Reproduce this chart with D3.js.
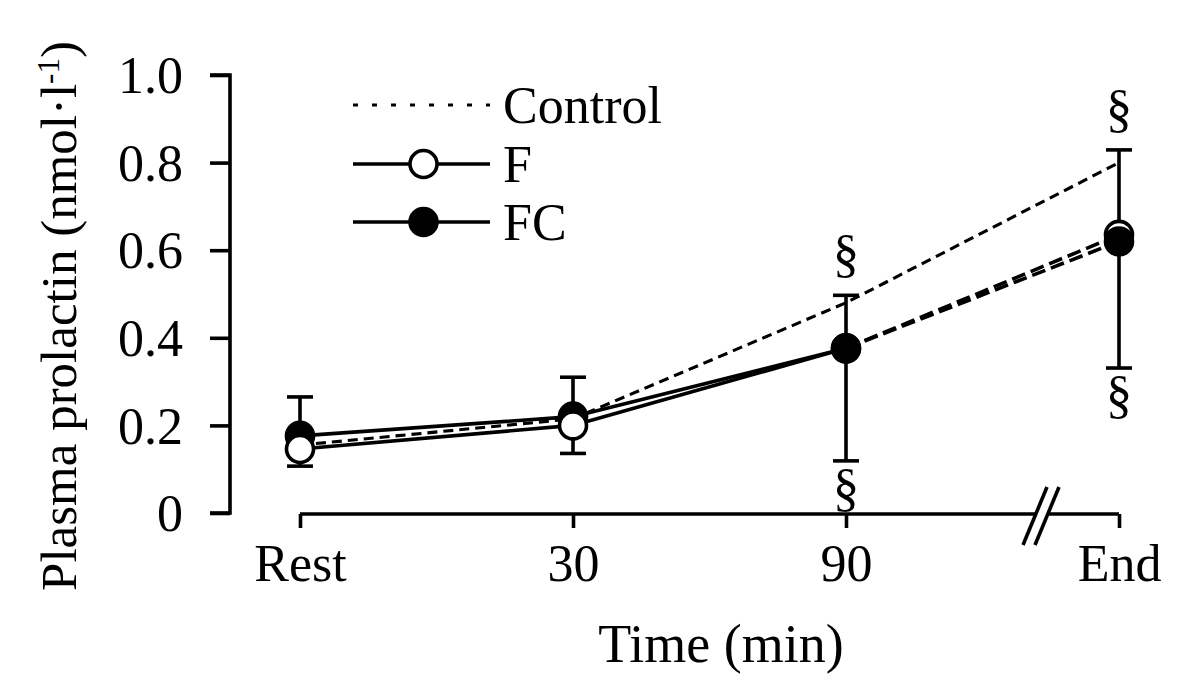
<!DOCTYPE html>
<html><head><meta charset="utf-8">
<script src="https://cdn.jsdelivr.net/npm/d3@7"></script>
<style>
html,body{margin:0;padding:0;background:#fff;}
text{font-family:"Liberation Serif","Times New Roman",serif;fill:#000;}
</style></head>
<body>
<svg id="chart" width="1200" height="700"></svg>
<script>
// ---- data ----
const categories = ["Rest", "30", "90", "End"];
const controlValues = [0.155, 0.215, 0.48, 0.80];
const fValues = [0.146, 0.200, 0.376, 0.635];
const fcValues = [0.176, 0.220, 0.376, 0.620];
const errHigh = [0.265, 0.310, 0.497, 0.829];
const errLow = [0.107, 0.136, 0.119, 0.331];
const yTicks = [0, 0.2, 0.4, 0.6, 0.8, 1.0];
const yTickLabels = ["0", "0.2", "0.4", "0.6", "0.8", "1.0"];
const sigIndex = [2, 2, 3, 3];
const sigSide = ["above", "below", "above", "below"];
const legendLabels = ["Control", "F", "FC"];

// ---- layout ----
const svg = d3.select("#chart");
const x = d3.scalePoint().domain(categories).range([300, 1119]);
const y = d3.scaleLinear().domain([0, 1]).range([513, 75]);
const xAxisY = 514;
const sw = 3.6;

// y axis
const yAxis = d3.axisLeft(y).tickValues(yTicks)
  .tickFormat((d, i) => yTickLabels[i]).tickSize(20).tickPadding(27);
const gy = svg.append("g").attr("transform", "translate(230,0)").call(yAxis);
gy.select(".domain").attr("d", "M-20,75H0V513H-20").attr("stroke", "#000").attr("stroke-width", sw).attr("fill", "none");
gy.selectAll(".tick line").attr("stroke", "#000").attr("stroke-width", sw);
gy.selectAll(".tick text").style("font-size", "52px").attr("dy", "0.34em").style("font-family", '"Liberation Serif",serif');

// x axis
const xAxis = d3.axisBottom(x).tickSize(14).tickPadding(16);
const gx = svg.append("g").attr("transform", `translate(0,${xAxisY})`).call(xAxis);
gx.select(".domain").remove();
gx.selectAll(".tick line").attr("stroke", "#000").attr("stroke-width", sw);
gx.selectAll(".tick text").style("font-size", "52px").style("font-family", '"Liberation Serif",serif');
// axis line with break
const breakX = 1041;
gx.append("path").attr("d", `M${x("Rest")},0H${breakX - 6}M${breakX + 6},0H${x("End")}`)
  .attr("stroke", "#000").attr("stroke-width", sw).attr("fill", "none");
[-6, 6].forEach(o => {
  gx.append("line").attr("x1", breakX + o - 12).attr("y1", 31).attr("x2", breakX + o + 12).attr("y2", -27)
    .attr("stroke", "#000").attr("stroke-width", sw);
});

// axis titles
svg.append("text").attr("x", 721).attr("y", 662).attr("text-anchor", "middle")
  .style("font-size", "54px").text("Time (min)");
const yt = svg.append("text").attr("transform", "translate(76,316) rotate(-90)")
  .attr("text-anchor", "middle").style("font-size", "51px");
yt.append("tspan").text("Plasma prolactin (nmol·l");
yt.append("tspan").attr("baseline-shift", "super").style("font-size", "31px").text("-1");
yt.append("tspan").text(")");

// lines
const line = d3.line().x((d, i) => x(categories[i])).y(d => y(d));
svg.append("path").datum(controlValues).attr("d", line).attr("fill", "none")
  .attr("stroke", "#000").attr("stroke-width", 3.1).attr("stroke-dasharray", "10,6");
[fValues, fcValues].forEach(vals => {
  svg.append("path").datum(vals.slice(0, 3)).attr("d", line).attr("fill", "none")
    .attr("stroke", "#000").attr("stroke-width", sw);
  const seg = [[x(categories[2]), y(vals[2])], [x(categories[3]), y(vals[3])]];
  svg.append("path").attr("d", d3.line()(seg)).attr("fill", "none")
    .attr("stroke", "#000").attr("stroke-width", sw).attr("stroke-dasharray", "14,6");
});

// error bars
categories.forEach((c, i) => {
  const cx = x(c);
  svg.append("line").attr("x1", cx).attr("x2", cx).attr("y1", y(errLow[i])).attr("y2", y(errHigh[i]))
    .attr("stroke", "#000").attr("stroke-width", sw);
  [errLow[i], errHigh[i]].forEach(v => {
    svg.append("line").attr("x1", cx - 13).attr("x2", cx + 13).attr("y1", y(v)).attr("y2", y(v))
      .attr("stroke", "#000").attr("stroke-width", sw);
  });
});

// markers
const r = 13.5;
function marker(i, vals, fill) {
  svg.append("circle").attr("cx", x(categories[i])).attr("cy", y(vals[i])).attr("r", r)
    .attr("fill", fill).attr("stroke", "#000").attr("stroke-width", sw);
}
[0, 1].forEach(i => marker(i, fcValues, "#000"));
[0, 1, 2, 3].forEach(i => marker(i, fValues, "#fff"));
[2, 3].forEach(i => marker(i, fcValues, "#000"));

// significance marks
sigIndex.forEach((idx, k) => {
  const cx = x(categories[idx]);
  const yy = sigSide[k] === "above" ? y(errHigh[idx]) - 24 : y(errLow[idx]) + 44;
  svg.append("text").attr("x", cx).attr("y", yy).attr("text-anchor", "middle")
    .style("font-size", "53px").text("§");
});

// legend
const lx0 = 353, lx1 = 490, ltx = 503;
const ly = [105, 164, 222];
svg.append("line").attr("x1", lx0).attr("x2", lx1).attr("y1", ly[0]).attr("y2", ly[0])
  .attr("stroke", "#000").attr("stroke-width", 3).attr("stroke-dasharray", "5,14");
[1, 2].forEach(k => {
  svg.append("line").attr("x1", lx0).attr("x2", lx1).attr("y1", ly[k]).attr("y2", ly[k])
    .attr("stroke", "#000").attr("stroke-width", sw);
  svg.append("circle").attr("cx", (lx0 + lx1) / 2 + 2).attr("cy", ly[k]).attr("r", r)
    .attr("fill", k === 1 ? "#fff" : "#000").attr("stroke", "#000").attr("stroke-width", sw);
});
legendLabels.forEach((t, k) => {
  svg.append("text").attr("x", ltx).attr("y", ly[k]).attr("dy", "0.35em")
    .style("font-size", "52px").text(t);
});
</script>
</body></html>
